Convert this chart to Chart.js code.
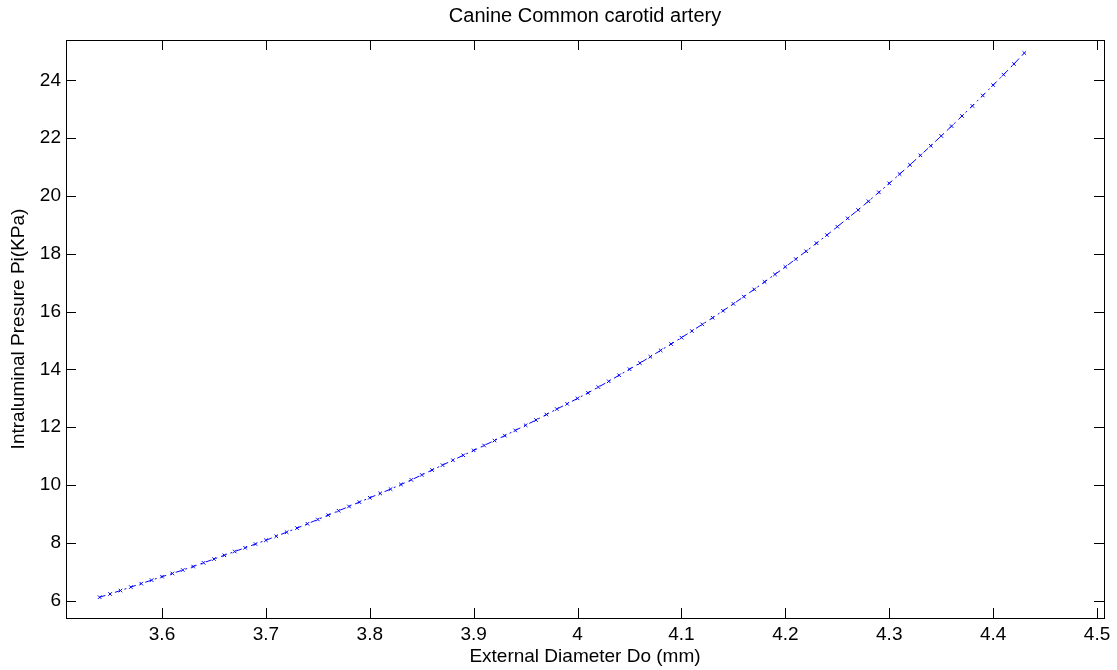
<!DOCTYPE html>
<html lang="en">
<head>
  <meta charset="UTF-8" />
  <title>Canine Common carotid artery</title>
  <script src="https://cdn.jsdelivr.net/npm/chart.js"></script>
  <style>
    body {
      margin: 0;
      background: #ffffff;
    }
    #wrap {
      width: 1117px;
      height: 670px;
    }
  </style>
</head>
<body>
  <div id="wrap"><canvas id="grafico"></canvas></div>

  <script>
    // diametro externo (mm)
    const diameter = [
      3.54, 3.55, 3.56, 3.57, 3.58, 3.59, 3.60, 3.61, 3.62, 3.63,
      3.64, 3.65, 3.66, 3.67, 3.68, 3.69, 3.70, 3.71, 3.72, 3.73,
      3.74, 3.75, 3.76, 3.77, 3.78, 3.79, 3.80, 3.81, 3.82, 3.83,
      3.84, 3.85, 3.86, 3.87, 3.88, 3.89, 3.90, 3.91, 3.92, 3.93,
      3.94, 3.95, 3.96, 3.97, 3.98, 3.99, 4.00, 4.01, 4.02, 4.03,
      4.04, 4.05, 4.06, 4.07, 4.08, 4.09, 4.10, 4.11, 4.12, 4.13,
      4.14, 4.15, 4.16, 4.17, 4.18, 4.19, 4.20, 4.21, 4.22, 4.23,
      4.24, 4.25, 4.26, 4.27, 4.28, 4.29, 4.30, 4.31, 4.32, 4.33,
      4.34, 4.35, 4.36, 4.37, 4.38, 4.39, 4.40, 4.41, 4.42, 4.43
    ];

    // pressao intraluminal (KPa)
    const pressure = [
      6.12, 6.23, 6.35, 6.47, 6.59, 6.71, 6.83, 6.94, 7.06, 7.18,
      7.31, 7.44, 7.57, 7.70, 7.83, 7.96, 8.09, 8.23, 8.37, 8.51,
      8.66, 8.81, 8.96, 9.11, 9.26, 9.41, 9.56, 9.71, 9.86, 10.02,
      10.18, 10.35, 10.52, 10.69, 10.86, 11.03, 11.20, 11.37, 11.54, 11.71,
      11.89, 12.07, 12.25, 12.44, 12.63, 12.81, 13.00, 13.19, 13.39, 13.59,
      13.80, 14.01, 14.22, 14.44, 14.66, 14.88, 15.10, 15.33, 15.56, 15.79,
      16.03, 16.27, 16.52, 16.77, 17.03, 17.29, 17.55, 17.82, 18.09, 18.37,
      18.65, 18.94, 19.23, 19.52, 19.82, 20.13, 20.44, 20.76, 21.08, 21.41,
      21.74, 22.08, 22.42, 22.77, 23.12, 23.48, 23.84, 24.20, 24.57, 24.95
    ];

    const xTicks = [3.6, 3.7, 3.8, 3.9, 4.0, 4.1, 4.2, 4.3, 4.4, 4.5];
    const yTicks = [6, 8, 10, 12, 14, 16, 18, 20, 22, 24];

    const fonte = "'Liberation Sans', Arial, sans-serif";

    // caixa do eixo + marcas de escala para dentro (estilo matlab)
    const caixaMatlab = {
      id: 'caixaMatlab',
      afterDraw(chart) {
        const { ctx, chartArea: a, scales } = chart;
        const len = 10;
        ctx.save();
        ctx.strokeStyle = '#000000';
        ctx.lineWidth = 1;
        ctx.beginPath();
        xTicks.forEach(v => {
          const px = Math.round(scales.x.getPixelForValue(v)) + 0.5;
          ctx.moveTo(px, a.bottom); ctx.lineTo(px, a.bottom - len);
          ctx.moveTo(px, a.top); ctx.lineTo(px, a.top + len);
        });
        yTicks.forEach(v => {
          const py = Math.round(scales.y.getPixelForValue(v)) + 0.5;
          ctx.moveTo(a.left, py); ctx.lineTo(a.left + len, py);
          ctx.moveTo(a.right, py); ctx.lineTo(a.right - len, py);
        });
        ctx.stroke();
        ctx.strokeRect(Math.round(a.left) + 0.5, Math.round(a.top) + 0.5,
          Math.round(a.right - a.left), Math.round(a.bottom - a.top));
        ctx.restore();
      }
    };

    new Chart(document.getElementById('grafico'), {
      type: 'line',
      data: {
        datasets: [{
          label: 'Pi',
          data: diameter.map((d, i) => ({ x: d, y: pressure[i] })),
          borderColor: '#0000ff',
          borderWidth: 1,
          borderDash: [6, 4, 2, 4],
          pointStyle: 'crossRot',
          pointRadius: 2.5,
          pointBorderWidth: 1,
          pointBorderColor: '#0000ff',
          pointBackgroundColor: '#0000ff',
          tension: 0,
          fill: false
        }]
      },
      options: {
        responsive: true,
        maintainAspectRatio: false,
        animation: false,
        layout: { padding: { left: 0, right: 13, top: 0, bottom: 0 } },
        plugins: {
          legend: { display: false },
          tooltip: { enabled: false },
          title: {
            display: true,
            fullSize: false,
            text: 'Canine Common carotid artery',
            color: '#000000',
            font: { family: fonte, size: 20, weight: 'normal' },
            padding: { top: 4, bottom: 12 }
          }
        },
        scales: {
          x: {
            type: 'linear',
            min: 3.5076,
            max: 4.5067,
            afterBuildTicks: s => { s.ticks = xTicks.map(v => ({ value: v })); },
            afterFit: s => { s.height = 52; },
            grid: { display: false, drawTicks: false },
            border: { display: true, color: '#000000', width: 1 },
            ticks: {
              color: '#000000',
              padding: 5,
              maxRotation: 0,
              font: { family: fonte, size: 19 },
              callback: v => String(Math.round(v * 10) / 10)
            },
            title: {
              display: true,
              text: 'External Diameter Do (mm)',
              color: '#000000',
              font: { family: fonte, size: 19 },
              padding: { top: 0, bottom: 2 }
            }
          },
          y: {
            type: 'linear',
            min: 5.4,
            max: 25.4,
            afterBuildTicks: s => { s.ticks = yTicks.map(v => ({ value: v })); },
            afterFit: s => { s.width = 66; },
            grid: { display: false, drawTicks: false },
            border: { display: true, color: '#000000', width: 1 },
            ticks: {
              color: '#000000',
              padding: 5,
              font: { family: fonte, size: 19 }
            },
            title: {
              display: true,
              text: 'Intraluminal Presure Pi(KPa)',
              color: '#000000',
              font: { family: fonte, size: 19 },
              padding: { top: 7, bottom: 0 }
            }
          }
        }
      },
      plugins: [caixaMatlab]
    });
  </script>
</body>
</html>
